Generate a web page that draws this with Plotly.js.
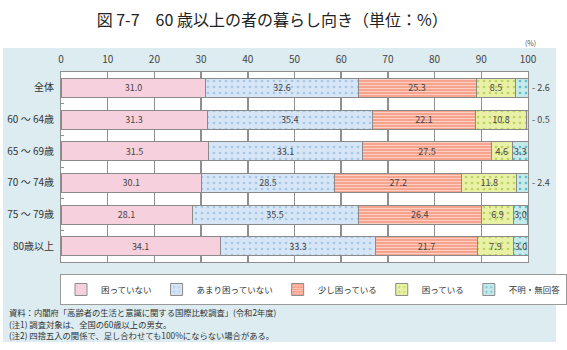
<!DOCTYPE html>
<html><head><meta charset="utf-8">
<script src="https://cdn.plot.ly/plotly-3.0.1.min.js"></script>
<style>body{margin:0;padding:0;background:#fff}#c{width:567px;height:350px}</style>
</head><body><div id="c"></div>
<script>
const categories = ['全体','60 ～ 64歳','65 ～ 69歳','70 ～ 74歳','75 ～ 79歳','80歳以上'];
const seriesNames = ['困っていない','あまり困っていない','少し困っている','困っている','不明・無回答'];
const notTroubled = [31.0,31.3,31.5,30.1,28.1,34.1];
const notMuch = [32.6,35.4,33.1,28.5,35.5,33.3];
const slightly = [25.3,22.1,27.5,27.2,26.4,21.7];
const troubled = [8.5,10.8,4.6,11.8,6.9,7.9];
const unknown = [2.6,0.5,3.3,2.4,3.0,3.0];
const xTicks = [0,10,20,30,40,50,60,70,80,90,100];
const notes = ['資料：内閣府「高齢者の生活と意識に関する国際比較調査」(令和2年度)',
               '(注1) 調査対象は、全国の60歳以上の男女。',
               '(注2) 四捨五入の関係で、足し合わせても100%にならない場合がある。'];

const font = 'Noto Sans CJK JP, sans-serif';
const styles = [
  {color:'#f7d0dd'},
  {color:'#d6e6f6', pattern:{shape:'.', fgcolor:'#a8c6e6', bgcolor:'#d6e6f6', size:6, solidity:0.15}},
  {color:'#f6a48e', pattern:{shape:'-', fgcolor:'#fccfc2', bgcolor:'#f6a48e', size:3, solidity:0.35}},
  {color:'#e8f1a6', pattern:{shape:'.', fgcolor:'#bfd35f', bgcolor:'#e8f1a6', size:6, solidity:0.15}},
  {color:'#c6e9eb', pattern:{shape:'.', fgcolor:'#5fc0c6', bgcolor:'#c6e9eb', size:6, solidity:0.15}}
];
const allSeries = [notTroubled, notMuch, slightly, troubled, unknown];
const traces = allSeries.map((vals,i)=>({
  type:'bar', orientation:'h', name:seriesNames[i], y:categories, x:vals,
  width:0.6,
  text: vals.map(v => v < 3 ? '' : v.toFixed(1)),
  textposition:'inside', insidetextanchor:'middle', textangle:0,
  insidetextfont:{family:font, size:9, color:'#444'},
  marker:Object.assign({line:{color:'#8a8a8a', width:1}}, styles[i]),
  hoverinfo:'skip'
}));

const annotations = [];
unknown.forEach((v,i)=>{
  if (v < 3) annotations.push({x:100, y:categories[i], xref:'x', yref:'y', text:'- '+v.toFixed(1),
    showarrow:false, xanchor:'left', xshift:2, font:{family:font, size:9, color:'#444'}});
});
annotations.push({x:1.005, y:1.115, xref:'paper', yref:'paper', text:'(%)', showarrow:false,
  xanchor:'center', yanchor:'bottom', font:{family:font, size:7, color:'#555'}});
const noteY = [-0.263, -0.324, -0.385];
notes.forEach((t,i)=>annotations.push({x:-0.116, y:noteY[i], xref:'paper', yref:'paper', text:t,
  showarrow:false, xanchor:'left', yanchor:'middle', font:{family:font, size:8.3, color:'#333'}}));

const layout = {
  width:567, height:350,
  margin:{l:61, r:39, t:72, b:88},
  paper_bgcolor:'#ffffff', plot_bgcolor:'#ffffff',
  barmode:'stack', bargap:0.4,
  uniformtext:{mode:'show', minsize:9},
  title:{text:'図 7-7　60 歳以上の者の暮らし向き（単位：%）', x:0.48, xanchor:'center', y:0.943, yanchor:'middle',
    font:{family:font, size:16, color:'#222'}},
  xaxis:{side:'top', range:[0,100], tickvals:xTicks, ticktext:xTicks.map(String),
    showgrid:true, gridcolor:'#8f8f8f', gridwidth:1.5, zeroline:false,
    showline:true, linecolor:'#8f8f8f', linewidth:1, mirror:true, ticks:'', ticklabelstandoff:4,
    tickfont:{family:font, size:10, color:'#444'}, fixedrange:true},
  yaxis:{type:'category', autorange:'reversed', showgrid:false, zeroline:false,
    showline:true, linecolor:'#8f8f8f', linewidth:1, mirror:true,
    ticks:'inside', tickson:'boundaries', ticklen:3, tickcolor:'#8f8f8f',
    tickfont:{family:font, size:10, color:'#333'}, ticklabelstandoff:4, fixedrange:true},
  legend:{orientation:'h', x:-0.0001, xanchor:'left', y:-0.063, yanchor:'top',
    bgcolor:'#ffffff', bordercolor:'#9a9a9a', borderwidth:1, itemwidth:30, tracegroupgap:0,
    font:{family:font, size:8.5, color:'#333'}, traceorder:'normal'},
  shapes:[
    {type:'rect', xref:'paper', yref:'paper', x0:-0.1242, x1:1.06, y0:-0.421, y1:1.1263,
      fillcolor:'#dcecf0', line:{width:0}, layer:'below'},
    {type:'rect', xref:'paper', yref:'paper', x0:0, x1:1, y0:0, y1:1,
      fillcolor:'#ffffff', line:{width:0}, layer:'below'}
  ],
  annotations:annotations,
  showlegend:true
};
Plotly.newPlot('c', traces, layout, {staticPlot:true, displayModeBar:false});
</script></body></html>
